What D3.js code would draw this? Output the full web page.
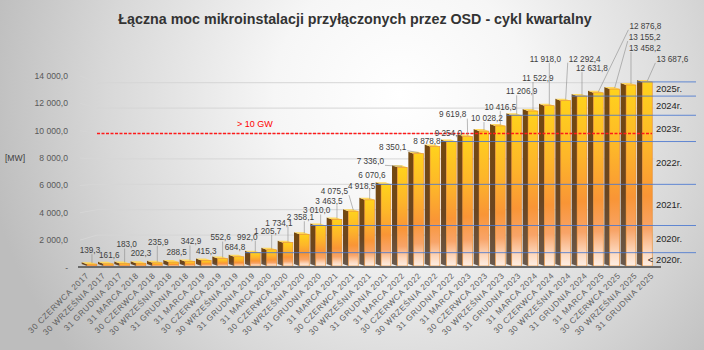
<!DOCTYPE html>
<html>
<head>
<meta charset="utf-8">
<script src="https://cdn.jsdelivr.net/npm/d3@7"></script>
<style>
  html, body { margin: 0; padding: 0; overflow: hidden; background: #fff; }
  text { font-family: "Liberation Sans", Arial, sans-serif; }
</style>
</head>
<body>
<div id="vis"></div>
<script>
const title = "Łączna moc mikroinstalacji przyłączonych przez OSD - cykl kwartalny";
const yAxisTitle = "[MW]";

const categories = [
  "30 CZERWCA 2017", "30 WRZEŚNIA 2017", "31 GRUDNIA 2017",
  "31 MARCA 2018", "30 CZERWCA 2018", "30 WRZEŚNIA 2018", "31 GRUDNIA 2018",
  "31 MARCA 2019", "30 CZERWCA 2019", "30 WRZEŚNIA 2019", "31 GRUDNIA 2019",
  "31 MARCA 2020", "30 CZERWCA 2020", "30 WRZEŚNIA 2020", "31 GRUDNIA 2020",
  "31 MARCA 2021", "30 CZERWCA 2021", "30 WRZEŚNIA 2021", "31 GRUDNIA 2021",
  "31 MARCA 2022", "30 CZERWCA 2022", "30 WRZEŚNIA 2022", "31 GRUDNIA 2022",
  "31 MARCA 2023", "30 CZERWCA 2023", "30 WRZEŚNIA 2023", "31 GRUDNIA 2023",
  "31 MARCA 2024", "30 CZERWCA 2024", "30 WRZEŚNIA 2024", "31 GRUDNIA 2024",
  "31 MARCA 2025", "30 CZERWCA 2025", "30 WRZEŚNIA 2025", "31 GRUDNIA 2025"
];

const values = [
  139.3, 161.6, 183.0,
  202.3, 235.9, 288.5, 342.9,
  415.3, 552.6, 684.8, 992.0,
  1205.7, 1734.1, 2358.1, 3010.0,
  3463.5, 4075.5, 4918.5, 6070.6,
  7336.0, 8350.1, 8878.8, 9254.0,
  9619.8, 10028.2, 10416.5, 11206.9,
  11522.9, 11918.0, 12292.4, 12631.8,
  12876.8, 13155.2, 13458.2, 13687.6
];

const tickValues = [0, 2000, 4000, 6000, 8000, 10000, 12000, 14000];
const yearLabels = ["< 2020r.", "2020r.", "2021r.", "2022r.", "2023r.", "2024r.", "2025r."];
const thresholdValue = 10000;
const thresholdLabel = "> 10 GW";

// where each value label sits, relative to the top of its bar [dx, dy]
const labelOffsets = [
  [-2, -14], [1, -9], [2, -19], [0, -10], [1, -21], [3, -10], [1, -20],
  [0, -9], [-2, -21], [-4, -10], [-8, -16], [-4, -19], [-9, -20], [-4, -17],
  [-4, -15], [-8, -18], [-19, -20], [-8, -14], [-14, -9], [-32, -6], [-26, -7],
  [-8, -5], [-3, -8], [-15, -22], [3, -13], [0, -19], [5, -24], [5, -33],
  [-4, -47], [19, -42], [10, -28], [47, -67], [30, -52], [14, -37], [25, -23]
];

const width = 704;
const height = 350;

const svg = d3.select("#vis")
  .append("svg")
  .attr("width", width)
  .attr("height", height);

const defs = svg.append("defs");

const bg = defs.append("radialGradient")
  .attr("id", "bg")
  .attr("gradientUnits", "userSpaceOnUse")
  .attr("cx", 400).attr("cy", 95).attr("r", 420);
bg.append("stop").attr("offset", 0).attr("stop-color", "#ffffff");
bg.append("stop").attr("offset", 0.3).attr("stop-color", "#f6f6f6");
bg.append("stop").attr("offset", 0.7).attr("stop-color", "#d8d8d8");
bg.append("stop").attr("offset", 1).attr("stop-color", "#bdbdbd");

const face = defs.append("linearGradient")
  .attr("id", "face")
  .attr("x1", 0).attr("y1", 0).attr("x2", 0).attr("y2", 1);
face.append("stop").attr("offset", 0).attr("stop-color", "#ffd21c");
face.append("stop").attr("offset", 0.35).attr("stop-color", "#fdb52a");
face.append("stop").attr("offset", 0.62).attr("stop-color", "#f99536");
face.append("stop").attr("offset", 0.8).attr("stop-color", "#f8a468");
face.append("stop").attr("offset", 0.92).attr("stop-color", "#fcd6bb");
face.append("stop").attr("offset", 1).attr("stop-color", "#fdeee4");

const side = defs.append("linearGradient")
  .attr("id", "side")
  .attr("x1", 0).attr("y1", 0).attr("x2", 0).attr("y2", 1);
side.append("stop").attr("offset", 0).attr("stop-color", "#74480f");
side.append("stop").attr("offset", 0.6).attr("stop-color", "#6a4520");
side.append("stop").attr("offset", 1).attr("stop-color", "#6a5a4e");

svg.append("rect")
  .attr("width", width)
  .attr("height", height)
  .attr("fill", "url(#bg)");

// scales: front of bars, back wall, tick labels, axis label row
const xBar = d3.scaleBand().domain(categories).range([83.8, 655.5]);
const xFront = d3.scaleBand().domain(categories).range([80, 661.7]);
const yBar = d3.scaleLinear().domain([0, 14000]).range([266, 77.7]);
const yWall = d3.scaleLinear().domain([0, 14000]).range([260.5, 82.7]);
const yTick = d3.scaleLinear().domain([0, 14000]).range([267.5, 76]);

const pl = d3.formatLocale({ decimal: ",", thousands: "\u00a0", grouping: [3] });
const fmt = pl.format(",.1f");

// gridlines on the back wall
svg.append("g")
  .selectAll("polyline")
  .data(tickValues.slice(1))
  .enter()
  .append("polyline")
  .attr("points", d => `80,${yTick(d)} 97,${yWall(d)} 655,${yWall(d)}`)
  .attr("fill", "none")
  .attr("stroke", "#d6d6d6")
  .attr("stroke-width", 1);

svg.append("g")
  .selectAll("text")
  .data(tickValues)
  .enter()
  .append("text")
  .attr("x", 68)
  .attr("y", d => yTick(d))
  .attr("dy", "0.35em")
  .attr("text-anchor", "end")
  .attr("font-size", 8.6)
  .attr("fill", "#595959")
  .text(d => d === 0 ? "-" : fmt(d));

svg.append("text")
  .attr("x", 15)
  .attr("y", 158)
  .attr("dy", "0.35em")
  .attr("text-anchor", "middle")
  .attr("font-size", 8.6)
  .attr("fill", "#404040")
  .text(yAxisTitle);

// bars
const fw = 9.8;
const sw = 5.4;
const rise = 2;
const bars = svg.append("g");
categories.forEach((c, i) => {
  const cx = xBar(c) + xBar.bandwidth() / 2;
  const fx = cx - fw / 2;
  const top = yBar(values[i]);
  const base = yBar(0);
  bars.append("polygon")
    .attr("points", `${fx},${top} ${fx - sw},${top - rise} ${fx - sw},${base - rise} ${fx},${base}`)
    .attr("fill", "url(#side)");
  bars.append("polygon")
    .attr("points", `${fx},${top} ${fx + fw},${top} ${fx + fw - sw},${top - rise} ${fx - sw},${top - rise}`)
    .attr("fill", "#ffd85c");
  bars.append("rect")
    .attr("x", fx)
    .attr("y", top)
    .attr("width", fw)
    .attr("height", base - top)
    .attr("fill", "url(#face)")
    .attr("stroke", "#e8892a")
    .attr("stroke-width", 0.6);
});

// floor edge
svg.append("line")
  .attr("x1", 78).attr("x2", 661)
  .attr("y1", 267).attr("y2", 267)
  .attr("stroke", "#6a6a6a")
  .attr("stroke-width", 2);

// year-end lines and labels
const yearEnds = categories
  .map((c, i) => ({ c, v: values[i] }))
  .filter(d => d.c.startsWith("31 GRUDNIA") && +d.c.slice(-4) >= 2019);

svg.append("g")
  .selectAll("line")
  .data(yearEnds)
  .enter()
  .append("line")
  .attr("x1", d => xBar(d.c) + xBar.bandwidth() / 2 - fw / 2 - sw)
  .attr("x2", 696)
  .attr("y1", d => yBar(d.v))
  .attr("y2", d => yBar(d.v))
  .attr("stroke", "#4a78d0")
  .attr("stroke-opacity", 0.85)
  .attr("stroke-width", 1);

const bounds = [0, ...yearEnds.map(d => d.v)];
svg.append("g")
  .selectAll("text")
  .data(yearLabels)
  .enter()
  .append("text")
  .attr("x", 682)
  .attr("y", (d, i) => (yBar(bounds[i]) + yBar(bounds[i + 1])) / 2)
  .attr("dy", "0.35em")
  .attr("text-anchor", "end")
  .attr("font-size", 9.4)
  .attr("fill", "#262626")
  .text(d => d);

// threshold
svg.append("line")
  .attr("x1", 97).attr("x2", 652)
  .attr("y1", yWall(thresholdValue)).attr("y2", yWall(thresholdValue))
  .style("stroke", "#ff1a1a")
  .style("stroke-width", 1.6)
  .style("stroke-dasharray", "3 1.5");

svg.append("text")
  .attr("x", 237)
  .attr("y", 127)
  .attr("font-size", 9)
  .attr("fill", "#ff0000")
  .text(thresholdLabel);

// value labels with leader lines
const labels = svg.append("g");
const leaders = svg.append("g");
categories.forEach((c, i) => {
  const cx = xBar(c) + xBar.bandwidth() / 2;
  const top = yBar(values[i]);
  const lx = cx + labelOffsets[i][0];
  const ly = top + labelOffsets[i][1];
  const t = labels.append("text")
    .attr("x", lx)
    .attr("y", ly)
    .attr("dy", "0.35em")
    .attr("text-anchor", "middle")
    .attr("font-size", 8.2)
    .attr("fill", "#404040")
    .text(fmt(values[i]));
  const w = t.node().getComputedTextLength();
  const px = Math.max(lx - w / 2 - 1, Math.min(cx, lx + w / 2 + 1));
  const py = Math.max(ly - 4, Math.min(top, ly + 4));
  if (Math.hypot(px - cx, py - top) > 7) {
    leaders.append("line")
      .attr("x1", px).attr("y1", py)
      .attr("x2", cx).attr("y2", top - 1)
      .attr("stroke", "#8c8c8c")
      .attr("stroke-width", 0.6);
  }
});

// category labels
svg.append("g")
  .selectAll("text")
  .data(categories)
  .enter()
  .append("text")
  .attr("transform", d => `translate(${xFront(d) + xFront.bandwidth() / 2 + 1},276) rotate(-45)`)
  .attr("text-anchor", "end")
  .attr("font-size", 8.2)
  .attr("letter-spacing", 0.6)
  .attr("fill", "#606060")
  .text(d => d);

// title, sized to the reference width
const tt = svg.append("text")
  .attr("x", 355)
  .attr("y", 24)
  .attr("text-anchor", "middle")
  .attr("font-weight", "bold")
  .attr("font-size", 15)
  .attr("fill", "#333333")
  .text(title);
const tw = tt.node().getComputedTextLength();
tt.attr("font-size", 15 * 474 / tw);
</script>
</body>
</html>
